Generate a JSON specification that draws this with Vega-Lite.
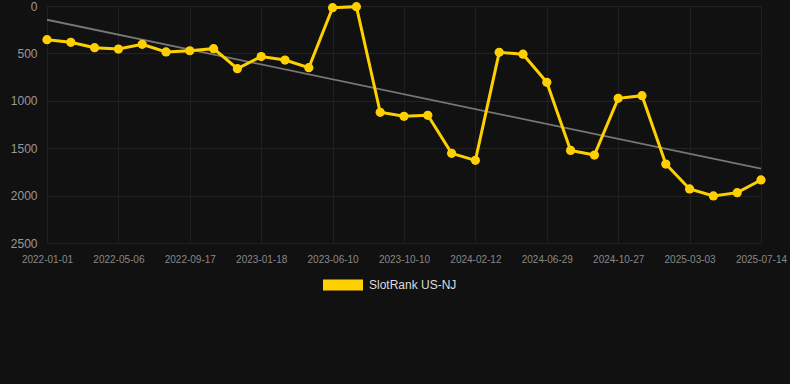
{
  "$schema": "https://vega.github.io/schema/vega-lite/v6.json",
  "width": 744,
  "height": 237,
  "padding": {"left": 0, "top": 0, "right": 1, "bottom": 100},
  "background": "#111111",
  "config": {
    "view": {"stroke": null},
    "font": "Liberation Sans"
  },
  "datasets": {
    "rank": [
      {"date": "2022-01-01", "rank": 355},
      {"date": "2022-02-12", "rank": 383},
      {"date": "2022-03-26", "rank": 440},
      {"date": "2022-05-06", "rank": 454},
      {"date": "2022-06-19", "rank": 404},
      {"date": "2022-08-03", "rank": 485},
      {"date": "2022-09-17", "rank": 472},
      {"date": "2022-10-28", "rank": 450},
      {"date": "2022-12-08", "rank": 661},
      {"date": "2023-01-18", "rank": 533},
      {"date": "2023-03-05", "rank": 570},
      {"date": "2023-04-22", "rank": 651},
      {"date": "2023-06-10", "rank": 18},
      {"date": "2023-07-21", "rank": 7},
      {"date": "2023-08-31", "rank": 1121},
      {"date": "2023-10-10", "rank": 1164},
      {"date": "2023-11-21", "rank": 1153},
      {"date": "2024-01-01", "rank": 1554},
      {"date": "2024-02-12", "rank": 1628},
      {"date": "2024-03-28", "rank": 489},
      {"date": "2024-05-14", "rank": 508},
      {"date": "2024-06-29", "rank": 805},
      {"date": "2024-08-08", "rank": 1523},
      {"date": "2024-09-17", "rank": 1572},
      {"date": "2024-10-27", "rank": 974},
      {"date": "2024-12-09", "rank": 946},
      {"date": "2025-01-20", "rank": 1667},
      {"date": "2025-03-03", "rank": 1930},
      {"date": "2025-04-16", "rank": 2004},
      {"date": "2025-05-31", "rank": 1969},
      {"date": "2025-07-14", "rank": 1835}
    ],
    "trend": [
      {"date": "2022-01-01", "rank": 145},
      {"date": "2025-07-14", "rank": 1716}
    ]
  },
  "encoding": {
    "x": {
      "field": "date",
      "type": "ordinal",
      "sort": null,
      "scale": {
        "type": "point",
        "padding": 0,
        "range": [2, 716],
        "domain": ["2022-01-01", "2022-02-12", "2022-03-26", "2022-05-06", "2022-06-19", "2022-08-03", "2022-09-17", "2022-10-28", "2022-12-08", "2023-01-18", "2023-03-05", "2023-04-22", "2023-06-10", "2023-07-21", "2023-08-31", "2023-10-10", "2023-11-21", "2024-01-01", "2024-02-12", "2024-03-28", "2024-05-14", "2024-06-29", "2024-08-08", "2024-09-17", "2024-10-27", "2024-12-09", "2025-01-20", "2025-03-03", "2025-04-16", "2025-05-31", "2025-07-14"]
      },
      "axis": {
        "title": null,
        "values": ["2022-01-01", "2022-05-06", "2022-09-17", "2023-01-18", "2023-06-10", "2023-10-10", "2024-02-12", "2024-06-29", "2024-10-27", "2025-03-03", "2025-07-14"],
        "labelAngle": 0,
        "labelFontSize": 10,
        "labelColor": "#888888",
        "labelPadding": 11,
        "ticks": false,
        "domain": false,
        "grid": true,
        "gridColor": "#1f1f1f",
        "gridWidth": 1
      }
    },
    "y": {
      "field": "rank",
      "type": "quantitative",
      "scale": {"domain": [0, 2500], "reverse": true, "nice": false, "zero": true},
      "axis": {
        "title": null,
        "values": [0, 500, 1000, 1500, 2000, 2500],
        "format": "d",
        "labelFontSize": 12,
        "labelColor": "#999999",
        "labelPadding": 8,
        "ticks": false,
        "domain": false,
        "grid": true,
        "gridColor": "#222222",
        "gridWidth": 1,
        "minExtent": 45,
        "maxExtent": 45
      }
    }
  },
  "layer": [
    {
      "data": {"name": "trend"},
      "mark": {"type": "line", "color": "#777777", "strokeWidth": 1.8}
    },
    {
      "data": {"name": "rank"},
      "mark": {"type": "line", "strokeWidth": 3},
      "encoding": {
        "color": {
          "datum": "SlotRank US-NJ",
          "type": "nominal",
          "scale": {"range": ["#ffd000"]},
          "legend": {
            "title": null,
            "orient": "none",
            "legendX": 278,
            "legendY": 259,
            "direction": "horizontal",
            "symbolType": "M-1,-0.28H1V0.28H-1Z",
            "symbolSize": 1600,
            "symbolFillColor": "#ffd000",
            "symbolStrokeColor": "#ffd000",
            "symbolStrokeWidth": 0,
            "labelColor": "#dddddd",
            "labelFontSize": 12,
            "labelOffset": 6
          }
        }
      }
    },
    {
      "data": {"name": "rank"},
      "mark": {"type": "point", "filled": true, "size": 85, "opacity": 1},
      "encoding": {
        "color": {"datum": "SlotRank US-NJ", "type": "nominal"}
      }
    }
  ]
}
